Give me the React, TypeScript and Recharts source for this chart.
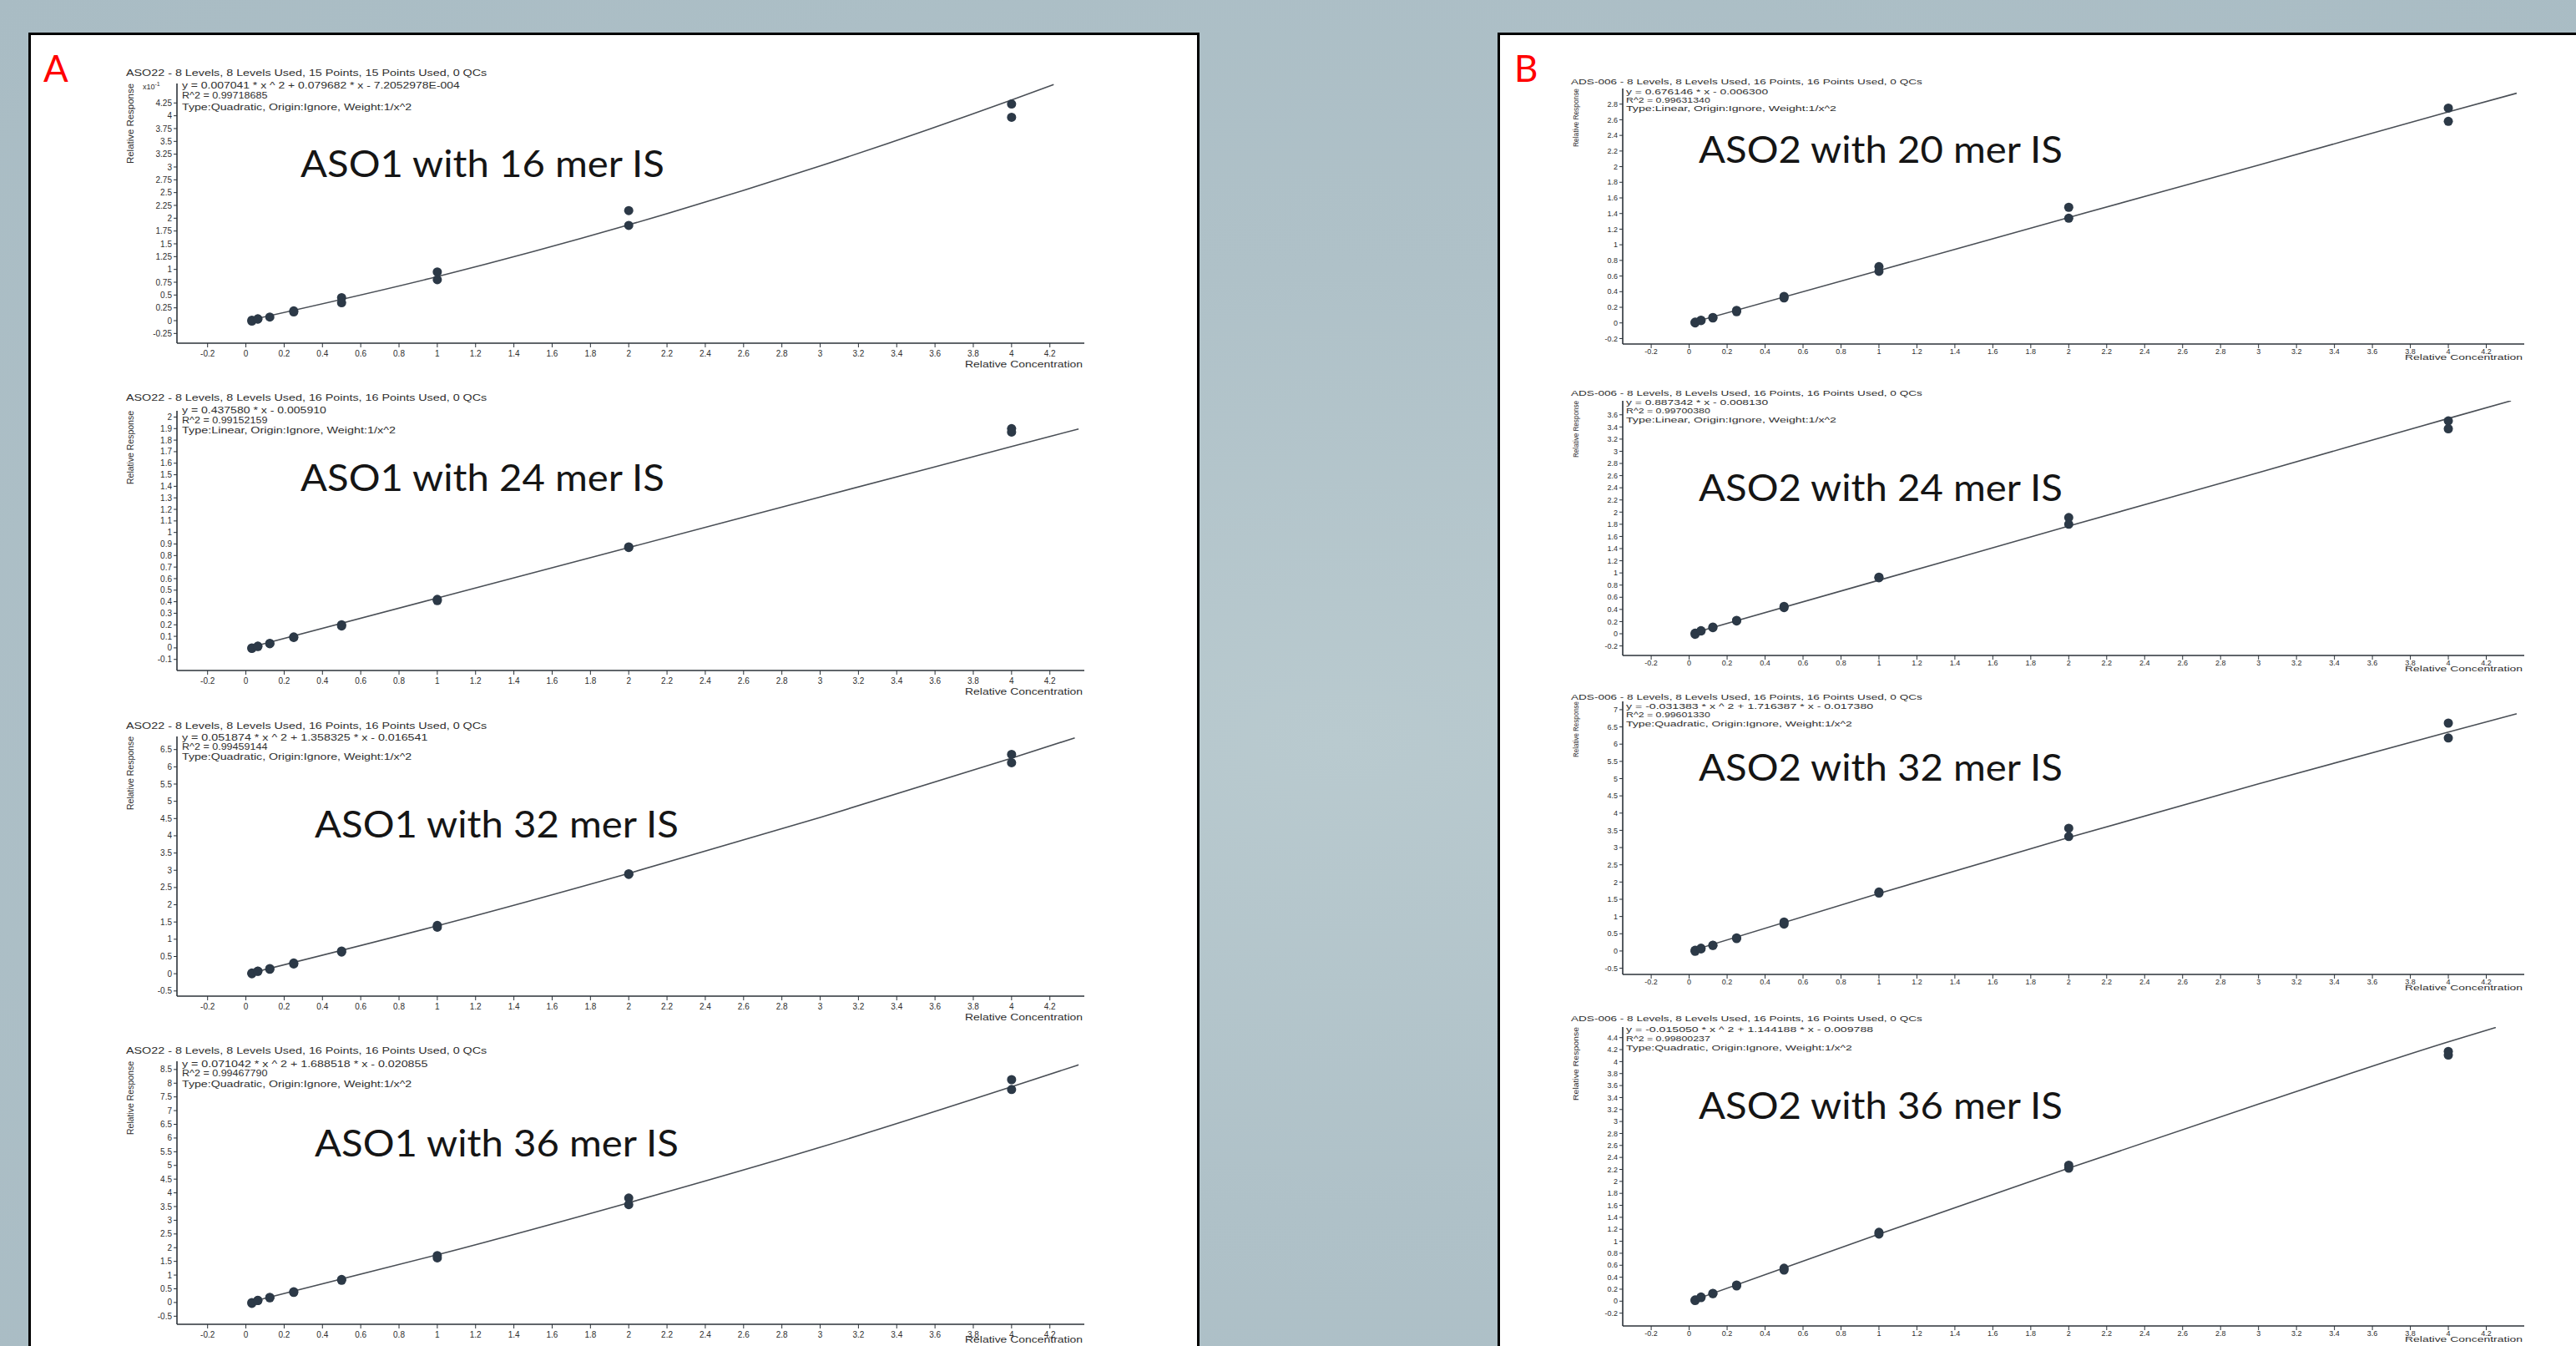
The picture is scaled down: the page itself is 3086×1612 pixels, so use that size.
import React from 'react';
import { ComposedChart, Line, Scatter, XAxis, YAxis } from 'recharts';

// calibration levels (relative concentration), same for all eight curves
const levels = [0.03125, 0.0625, 0.125, 0.25, 0.5, 1, 2, 4];
const xTicks = [-0.2, 0, 0.2, 0.4, 0.6, 0.8, 1, 1.2, 1.4, 1.6, 1.8, 2, 2.2, 2.4, 2.6, 2.8, 3, 3.2, 3.4, 3.6, 3.8, 4, 4.2];

// Panel A - ASO1
const a16Rep1 = [0.01, 0.03, 0.07, 0.17, 0.45, 0.95, 2.15, 4.23];
const a16Rep2 = [-0.01, 0.035, null, 0.19, 0.35, 0.8, 1.86, 3.97];
const a16FitX = [0.02, 1, 2, 3, 4, 4.22];
const a16FitY = [0.01, 0.86, 1.87, 3.02, 4.31, 4.61];
const a16Ticks = [-0.25, 0, 0.25, 0.5, 0.75, 1, 1.25, 1.5, 1.75, 2, 2.25, 2.5, 2.75, 3, 3.25, 3.5, 3.75, 4, 4.25];

const a24Rep1 = [-0.005, 0.012, 0.036, 0.09, 0.19, 0.41, 0.875, 1.9];
const a24Rep2 = [0.0, 0.015, 0.04, 0.095, 0.2, 0.42, 0.87, 1.87];
const a24FitX = [0.02, 1, 2, 3, 4, 4.35];
const a24FitY = [0.003, 0.432, 0.869, 1.307, 1.744, 1.897];
const a24Ticks = [-0.1, 0, 0.1, 0.2, 0.3, 0.4, 0.5, 0.6, 0.7, 0.8, 0.9, 1, 1.1, 1.2, 1.3, 1.4, 1.5, 1.6, 1.7, 1.8, 1.9, 2];

const a32Rep1 = [0.0, 0.07, 0.13, 0.285, 0.63, 1.35, 2.88, 6.36];
const a32Rep2 = [0.02, 0.075, 0.15, 0.31, 0.66, 1.4, 2.9, 6.12];
const a32FitX = [0.02, 1, 2, 3, 4, 4.33];
const a32FitY = [0.01, 1.39, 2.91, 4.53, 6.25, 6.84];
const a32Ticks = [-0.5, 0, 0.5, 1, 1.5, 2, 2.5, 3, 3.5, 4, 4.5, 5, 5.5, 6, 6.5];

const a36Rep1 = [0.0, 0.07, 0.17, 0.37, 0.84, 1.71, 3.81, 8.13];
const a36Rep2 = [-0.03, 0.08, 0.19, 0.39, 0.81, 1.63, 3.57, 7.77];
const a36FitX = [0.02, 1, 2, 3, 4, 4.35];
const a36FitY = [0.013, 1.74, 3.64, 5.66, 7.87, 8.67];
const a36Ticks = [-0.5, 0, 0.5, 1, 1.5, 2, 2.5, 3, 3.5, 4, 4.5, 5, 5.5, 6, 6.5, 7, 7.5, 8, 8.5];

// Panel B - ASO2
const b20Rep1 = [0.0, 0.03, 0.064, 0.143, 0.32, 0.72, 1.48, 2.75];
const b20Rep2 = [0.01, 0.035, 0.07, 0.16, 0.34, 0.66, 1.34, 2.58];
const b20FitX = [0.02, 1, 2, 3, 4, 4.36];
const b20FitY = [0.007, 0.67, 1.35, 2.02, 2.7, 2.94];
const b20Ticks = [-0.2, 0, 0.2, 0.4, 0.6, 0.8, 1, 1.2, 1.4, 1.6, 1.8, 2, 2.2, 2.4, 2.6, 2.8];

const b24Rep1 = [0.01, 0.045, 0.1, 0.21, 0.43, 0.93, 1.91, 3.5];
const b24Rep2 = [-0.01, 0.05, 0.11, 0.22, 0.45, 0.92, 1.8, 3.37];
const b24FitX = [0.02, 1, 2, 3, 4, 4.33];
const b24FitY = [0.01, 0.88, 1.77, 2.65, 3.54, 3.83];
const b24Ticks = [-0.2, 0, 0.2, 0.4, 0.6, 0.8, 1, 1.2, 1.4, 1.6, 1.8, 2, 2.2, 2.4, 2.6, 2.8, 3, 3.2, 3.4, 3.6];

const b32Rep1 = [0.02, 0.06, 0.16, 0.36, 0.78, 1.71, 3.56, 6.61];
const b32Rep2 = [-0.01, 0.08, 0.17, 0.38, 0.84, 1.68, 3.32, 6.18];
const b32FitX = [0.02, 1, 2, 3, 4, 4.36];
const b32FitY = [0.017, 1.67, 3.29, 4.85, 6.35, 6.88];
const b32Ticks = [-0.5, 0, 0.5, 1, 1.5, 2, 2.5, 3, 3.5, 4, 4.5, 5, 5.5, 6, 6.5, 7];

const b36Rep1 = [0.02, 0.06, 0.125, 0.255, 0.52, 1.15, 2.27, 4.17];
const b36Rep2 = [0.01, 0.07, 0.13, 0.27, 0.55, 1.12, 2.22, 4.11];
const b36FitX = [0.02, 1, 2, 3, 4, 4.25];
const b36FitY = [0.013, 1.12, 2.22, 3.29, 4.33, 4.57];
const b36Ticks = [-0.2, 0, 0.2, 0.4, 0.6, 0.8, 1, 1.2, 1.4, 1.6, 1.8, 2, 2.2, 2.4, 2.6, 2.8, 3, 3.2, 3.4, 3.6, 3.8, 4, 4.2, 4.4];

// texts
const headerA15 = 'ASO22 - 8 Levels, 8 Levels Used, 15 Points, 15 Points Used, 0 QCs';
const headerA16 = 'ASO22 - 8 Levels, 8 Levels Used, 16 Points, 16 Points Used, 0 QCs';
const headerB = 'ADS-006 - 8 Levels, 8 Levels Used, 16 Points, 16 Points Used, 0 QCs';
const eqA16 = ['y = 0.007041 * x ^ 2  + 0.079682 * x  - 7.2052978E-004', 'R^2 = 0.99718685', 'Type:Quadratic, Origin:Ignore, Weight:1/x^2'];
const eqA24 = ['y = 0.437580 * x  - 0.005910', 'R^2 = 0.99152159', 'Type:Linear, Origin:Ignore, Weight:1/x^2'];
const eqA32 = ['y = 0.051874 * x ^ 2  + 1.358325 * x  - 0.016541', 'R^2 = 0.99459144', 'Type:Quadratic, Origin:Ignore, Weight:1/x^2'];
const eqA36 = ['y = 0.071042 * x ^ 2  + 1.688518 * x  - 0.020855', 'R^2 = 0.99467790', 'Type:Quadratic, Origin:Ignore, Weight:1/x^2'];
const eqB20 = ['y = 0.676146 * x  - 0.006300', 'R^2 = 0.99631340', 'Type:Linear, Origin:Ignore, Weight:1/x^2'];
const eqB24 = ['y = 0.887342 * x  - 0.008130', 'R^2 = 0.99700380', 'Type:Linear, Origin:Ignore, Weight:1/x^2'];
const eqB32 = ['y = -0.031383 * x ^ 2  + 1.716387 * x  - 0.017380', 'R^2 = 0.99601330', 'Type:Quadratic, Origin:Ignore, Weight:1/x^2'];
const eqB36 = ['y = -0.015050 * x ^ 2  + 1.144188 * x  - 0.009788', 'R^2 = 0.99800237', 'Type:Quadratic, Origin:Ignore, Weight:1/x^2'];

const YW = 60;
const XH = 30;
const axisColor = '#2b3239';
const dotColor = '#2c3947';
const txtColor = '#2e2e2e';

const panelA = { axisX: 212, axisRight: 1299, xDomain: [-0.36, 4.38], hx: 151, ex: 218, rrX: 157, fs: 10, tfs: 10, charW: 6.4, rcDy: 29, xMargin: 4 };
const panelB = { axisX: 1944, axisRight: 3024, xDomain: [-0.35, 4.4], hx: 1882, ex: 1948, rrX: 1888, fs: 9, tfs: 9, charW: 6.3, rcDy: 19, xMargin: 1 };

const charts = [
  { p: panelA, top: 100, bottom: 411, yDomain: [-0.44, 4.63], ticks: a16Ticks, rep1: a16Rep1, rep2: a16Rep2, fitX: a16FitX, fitY: a16FitY, header: headerA15, eq: eqA16, hy: 88, eqDy: [15, 27, 41], title: 'ASO1 with 16 mer IS', tx: 360, ty: 212, rr: 96 },
  { p: panelA, top: 492, bottom: 803, yDomain: [-0.196, 2.054], ticks: a24Ticks, rep1: a24Rep1, rep2: a24Rep2, fitX: a24FitX, fitY: a24FitY, header: headerA16, eq: eqA24, hy: 477, eqDy: [15, 27, 39], title: 'ASO1 with 24 mer IS', tx: 360, ty: 588, rr: 88 },
  { p: panelA, top: 882, bottom: 1193, yDomain: [-0.65, 6.88], ticks: a32Ticks, rep1: a32Rep1, rep2: a32Rep2, fitX: a32FitX, fitY: a32FitY, header: headerA16, eq: eqA32, hy: 870, eqDy: [14, 25, 37], title: 'ASO1 with 32 mer IS', tx: 377, ty: 1003, rr: 88 },
  { p: panelA, top: 1271, bottom: 1586, yDomain: [-0.795, 8.8], ticks: a36Ticks, rep1: a36Rep1, rep2: a36Rep2, fitX: a36FitX, fitY: a36FitY, header: headerA16, eq: eqA36, hy: 1259, eqDy: [16, 27, 40], title: 'ASO1 with 36 mer IS', tx: 377, ty: 1385, rr: 88 },
  { p: panelB, top: 106, bottom: 412, yDomain: [-0.27, 3.0], ticks: b20Ticks, rep1: b20Rep1, rep2: b20Rep2, fitX: b20FitX, fitY: b20FitY, header: headerB, eq: eqB20, hy: 98, eqDy: [12, 22, 32], title: 'ASO2 with 20 mer IS', tx: 2035, ty: 195, rr: 70 },
  { p: panelB, top: 480, bottom: 785, yDomain: [-0.357, 3.83], ticks: b24Ticks, rep1: b24Rep1, rep2: b24Rep2, fitX: b24FitX, fitY: b24FitY, header: headerB, eq: eqB24, hy: 471, eqDy: [11, 21, 32], title: 'ASO2 with 24 mer IS', tx: 2035, ty: 600, rr: 68 },
  { p: panelB, top: 840, bottom: 1167, yDomain: [-0.68, 7.24], ticks: b32Ticks, rep1: b32Rep1, rep2: b32Rep2, fitX: b32FitX, fitY: b32FitY, header: headerB, eq: eqB32, hy: 835, eqDy: [11, 21, 32], title: 'ASO2 with 32 mer IS', tx: 2035, ty: 935, rr: 67 },
  { p: panelB, top: 1230, bottom: 1588, yDomain: [-0.414, 4.577], ticks: b36Ticks, rep1: b36Rep1, rep2: b36Rep2, fitX: b36FitX, fitY: b36FitY, header: headerB, eq: eqB36, hy: 1220, eqDy: [13, 24, 35], title: 'ASO2 with 36 mer IS', tx: 2035, ty: 1340, rr: 88 },
];

const Dot = (props: any) => <circle cx={props.cx} cy={props.cy} r={5.5} fill={dotColor} />;

const CalibChart = ({ c }: { c: any }) => {
  const w = c.p.axisRight - c.p.axisX + YW;
  const h = c.bottom - c.top + XH;
  const pts: { x: number; y: number }[] = [];
  levels.forEach((x, i) => {
    if (c.rep1[i] != null) pts.push({ x, y: c.rep1[i] });
    if (c.rep2[i] != null) pts.push({ x, y: c.rep2[i] });
  });
  const fit = c.fitX.map((x: number, i: number) => ({ x, y: c.fitY[i] }));
  const tickStyle = { fontSize: c.p.tfs, fill: txtColor, fontFamily: 'Liberation Sans' };
  return (
    <div style={{ position: 'absolute', left: c.p.axisX - YW, top: c.top, width: w, height: h }}>
      <ComposedChart width={w} height={h} margin={{ top: 0, right: 0, bottom: 0, left: 0 }}>
        <XAxis
          type="number"
          dataKey="x"
          domain={c.p.xDomain}
          ticks={xTicks}
          interval={0}
          allowDataOverflow
          height={XH}
          tickSize={5}
          tickMargin={c.p.xMargin}
          axisLine={{ stroke: axisColor, strokeWidth: 1.6 }}
          tickLine={{ stroke: axisColor }}
          tick={tickStyle}
        />
        <YAxis
          type="number"
          dataKey="y"
          domain={c.yDomain}
          ticks={c.ticks}
          interval={0}
          allowDataOverflow
          width={YW}
          tickSize={4}
          tickMargin={2}
          axisLine={{ stroke: axisColor, strokeWidth: 1.6 }}
          tickLine={{ stroke: axisColor }}
          tick={tickStyle}
        />
        <Line data={fit} dataKey="y" type="monotone" stroke="#4a4f56" strokeWidth={1.6} dot={false} isAnimationActive={false} />
        <Scatter data={pts} dataKey="y" fill={dotColor} shape={Dot} isAnimationActive={false} />
      </ComposedChart>
    </div>
  );
};

const ChartTexts = ({ c }: { c: any }) => {
  const p = c.p;
  const rcY = Math.min(c.bottom + p.rcDy, 1608);
  return (
    <g>
      <text x={p.hx} y={c.hy + 3} fontSize={p.fs} fill={txtColor} fontFamily="Liberation Sans"
        textLength={c.header.length * (p === panelA ? 6.65 : 6.28)} lengthAdjust="spacingAndGlyphs">{c.header}</text>
      {c.eq.map((s: string, i: number) => (
        <text key={i} x={p.ex} y={c.hy + c.eqDy[i] + 3} fontSize={p.fs} fill={txtColor} fontFamily="Liberation Sans"
          textLength={s.replace(/  /g, ' ').length * p.charW} lengthAdjust="spacingAndGlyphs">{s}</text>
      ))}
      <text x={p.rrX} y={c.top} fontSize={p.fs} fill={txtColor} fontFamily="Liberation Sans" textAnchor="end"
        transform={`rotate(-90 ${p.rrX} ${c.top})`} dy={3} textLength={c.rr} lengthAdjust="spacingAndGlyphs">Relative Response</text>
      <text x={p.axisRight - 2} y={rcY} fontSize={p.fs} fill={txtColor} fontFamily="Liberation Sans" textAnchor="end"
        textLength={141} lengthAdjust="spacingAndGlyphs">Relative Concentration</text>
      <text x={c.tx} y={c.ty} fontSize={44} fill="#151515" fontFamily="Lato" textLength={436} lengthAdjust="spacingAndGlyphs">{c.title}</text>
    </g>
  );
};

const App: React.FC = () => {
  return (
    <div style={{
      position: 'absolute', left: 0, top: 0, width: 3086, height: 1612, overflow: 'hidden',
      background: 'radial-gradient(ellipse at 52% 55%, #b9cacf 0%, #afc1c8 45%, #a9bcc4 100%)',
    }}>
      <div style={{ position: 'absolute', left: 34, top: 39, width: 1403, height: 1600, background: '#fff', border: '3px solid #000', boxSizing: 'border-box' }} />
      <div style={{ position: 'absolute', left: 1794, top: 39, width: 1320, height: 1600, background: '#fff', border: '3px solid #000', boxSizing: 'border-box' }} />
      {charts.map((c, i) => <CalibChart key={i} c={c} />)}
      <svg width={3086} height={1612} style={{ position: 'absolute', left: 0, top: 0, pointerEvents: 'none' }}>
        <text x={52} y={98} fontSize={44} fill="#ff0000" fontFamily="Lato">A</text>
        <text x={1814} y={98} fontSize={44} fill="#ff0000" fontFamily="Lato">B</text>
        <text x={171} y={107} fontSize={9} fill={txtColor} fontFamily="Liberation Sans">x10<tspan dy={-4} fontSize={7}>-1</tspan></text>
        {charts.map((c, i) => <ChartTexts key={i} c={c} />)}
      </svg>
    </div>
  );
};

export default App;
